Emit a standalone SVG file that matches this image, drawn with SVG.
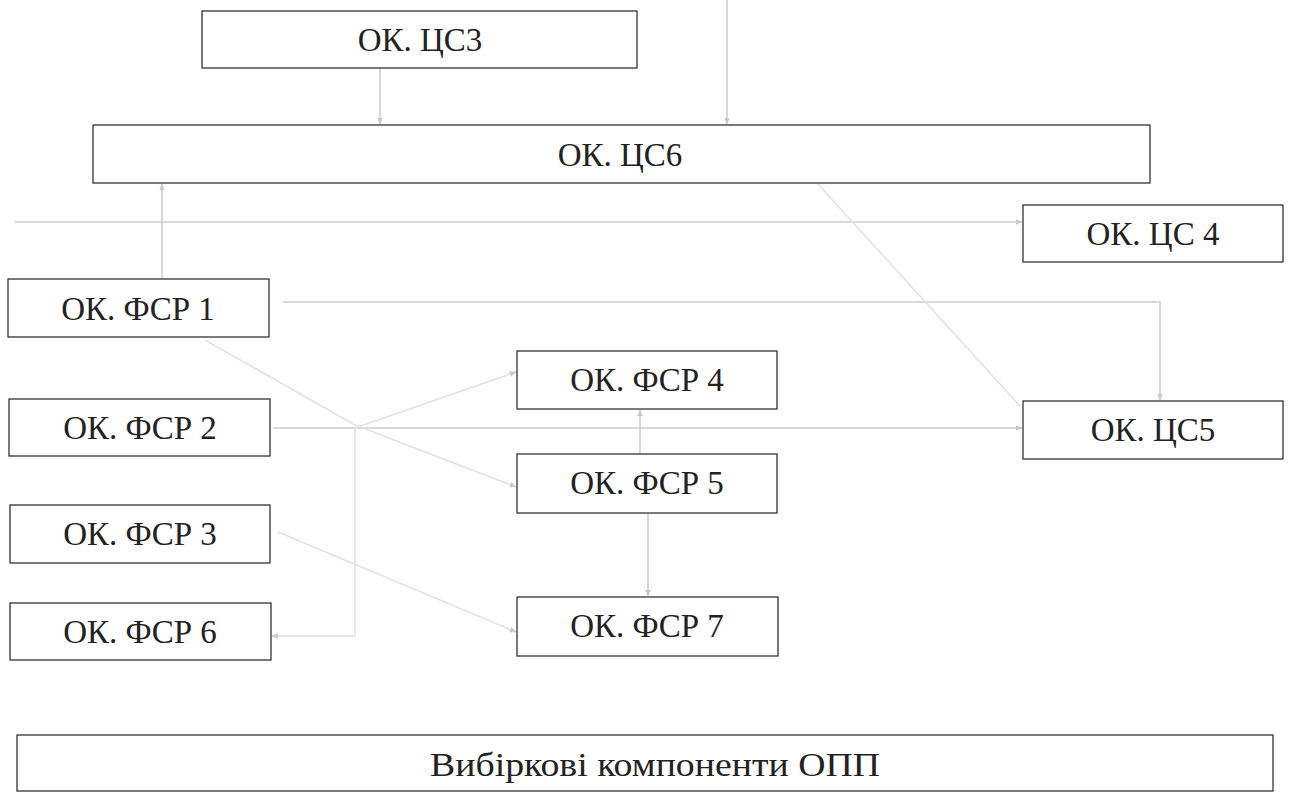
<svg xmlns="http://www.w3.org/2000/svg" width="1290" height="793" viewBox="0 0 1290 793">
<style>
.box{fill:#fff;stroke:#333;stroke-width:1.3}
.t{font-size:33px;fill:#222;text-anchor:middle}
.c{fill:none;stroke:#cdcdcd;stroke-width:1.6}
.cf{fill:none;stroke:#e2e2e2;stroke-width:1.6}
</style>
<defs>
<marker id="ah" viewBox="0 0 10 10" refX="9" refY="5" markerWidth="7" markerHeight="7" orient="auto" markerUnits="userSpaceOnUse">
<path d="M0,1 L10,5 L0,9 z" fill="#c9c9c9"/>
</marker>
</defs>
<rect width="1290" height="793" fill="#fff"/>
<g id="connectors">
<line class="c" x1="380" y1="68" x2="380" y2="124" marker-end="url(#ah)"/>
<line class="c" x1="727" y1="0" x2="727" y2="124" marker-end="url(#ah)"/>
<line class="c" x1="162" y1="279" x2="162" y2="184" marker-end="url(#ah)"/>
<line class="c" x1="15" y1="222" x2="1022" y2="222" marker-end="url(#ah)"/>
<polyline class="c" points="283,302 1160,302 1160,400" marker-end="url(#ah)"/>
<line class="cf" x1="818" y1="184" x2="1020" y2="406"/>
<line class="c" x1="273" y1="428" x2="1022" y2="428" marker-end="url(#ah)"/>
<line class="cf" x1="205" y1="340" x2="355" y2="425"/>
<line class="cf" x1="355" y1="425" x2="516" y2="487" marker-end="url(#ah)"/>
<line class="cf" x1="355" y1="428" x2="516" y2="372" marker-end="url(#ah)"/>
<polyline class="cf" points="355,428 355,636 272,636" marker-end="url(#ah)"/>
<line class="cf" x1="278" y1="532" x2="516" y2="632" marker-end="url(#ah)"/>
<line class="c" x1="640" y1="454" x2="640" y2="410" marker-end="url(#ah)"/>
<line class="c" x1="648" y1="513" x2="648" y2="596" marker-end="url(#ah)"/>
</g>
<g font-family="Liberation Serif, Times New Roman, serif">
<g id="cs3"><rect class="box" x="202" y="11" width="435" height="57"/><text class="t" x="420" y="51">ОК. ЦС3</text></g>
<g id="cs6"><rect class="box" x="93" y="125" width="1057" height="58"/><text class="t" x="620" y="166">ОК. ЦС6</text></g>
<g id="cs4"><rect class="box" x="1023" y="205" width="260" height="57"/><text class="t" x="1153" y="245">ОК. ЦС 4</text></g>
<g id="fsr1"><rect class="box" x="8" y="279" width="261" height="58"/><text class="t" x="138" y="320">ОК. ФСР 1</text></g>
<g id="fsr2"><rect class="box" x="9" y="399" width="261" height="57"/><text class="t" x="140" y="439">ОК. ФСР 2</text></g>
<g id="fsr3"><rect class="box" x="10" y="505" width="260" height="58"/><text class="t" x="140" y="545">ОК. ФСР 3</text></g>
<g id="fsr6"><rect class="box" x="10" y="603" width="261" height="57"/><text class="t" x="140" y="643">ОК. ФСР 6</text></g>
<g id="fsr4"><rect class="box" x="517" y="351" width="260" height="58"/><text class="t" x="647" y="391">ОК. ФСР 4</text></g>
<g id="fsr5"><rect class="box" x="517" y="454" width="260" height="59"/><text class="t" x="647" y="494">ОК. ФСР 5</text></g>
<g id="fsr7"><rect class="box" x="517" y="597" width="261" height="59"/><text class="t" x="647" y="637">ОК. ФСР 7</text></g>
<g id="cs5"><rect class="box" x="1023" y="401" width="260" height="58"/><text class="t" x="1153" y="441">ОК. ЦС5</text></g>
<g id="vybirkovi"><rect class="box" x="17" y="735" width="1256" height="56"/><text class="t" x="655" y="776" textLength="450" lengthAdjust="spacingAndGlyphs">Вибіркові компоненти ОПП</text></g>
</g>
</svg>
